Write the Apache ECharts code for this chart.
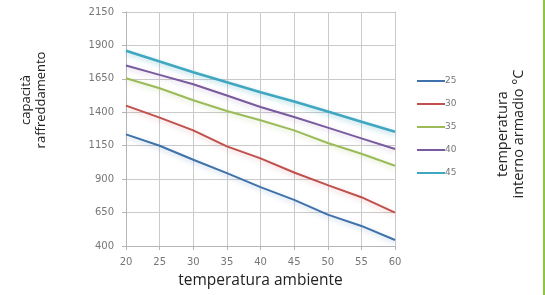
<!DOCTYPE html>
<html>
<head>
<meta charset="utf-8">
<script src="https://cdn.jsdelivr.net/npm/echarts@6/dist/echarts.min.js"></script>
<style>
  html, body { margin: 0; padding: 0; background: #fff; }
  #chart { width: 545px; height: 295px; box-sizing: border-box; border-right: 2px solid #8cc63f; }
</style>
</head>
<body>
<div id="chart"></div>
<script>
// dati
const tempAmbiente = [20, 25, 30, 35, 40, 45, 50, 55, 60];
const serieNomi = ['25', '30', '35', '40', '45'];
const cap25 = [1235, 1150, 1045, 945, 840, 745, 635, 550, 445];
const cap30 = [1450, 1360, 1265, 1145, 1055, 950, 855, 765, 650];
const cap35 = [1655, 1580, 1490, 1410, 1340, 1265, 1170, 1090, 1000];
const cap40 = [1750, 1680, 1610, 1525, 1440, 1365, 1285, 1205, 1125];
const cap45 = [1860, 1780, 1700, 1625, 1550, 1480, 1405, 1330, 1255];
const yTicks = [400, 650, 900, 1150, 1400, 1650, 1900, 2150];

const colori = ['#3f72aa', '#c0504d', '#9bbb59', '#7a5a9e', '#3fa7bf'];
const aloni = ['rgba(79,129,189,0.35)', 'rgba(192,80,77,0.3)', 'rgba(155,187,89,0.35)', 'rgba(128,100,162,0.3)', 'rgba(75,172,198,0.45)'];
const valori = [cap25, cap30, cap35, cap40, cap45];

const chart = echarts.init(document.getElementById('chart'));

const series = serieNomi.map((nome, i) => ({
    name: nome,
    type: 'line',
    symbol: 'none',
    yAxisIndex: 0,
    data: tempAmbiente.map((t, k) => [t, valori[i][k]]),
    lineStyle: {
        color: colori[i],
        width: i === 4 ? 2.6 : 2,
        shadowColor: aloni[i],
        shadowBlur: 5,
        shadowOffsetY: 2
    },
    itemStyle: { color: colori[i] }
}));

const option = {
    animation: false,
    grid: { left: 126, right: 148, top: 12, bottom: 49 },
    legend: {
        orient: 'vertical',
        left: 412,
        top: 70,
        icon: 'rect',
        itemWidth: 28,
        itemHeight: 2,
        itemGap: 11,
        textStyle: { fontSize: 9, color: '#777', fontFamily: 'DejaVu Sans', lineHeight: 12, padding: [0, 0, 0, -5] },
        data: serieNomi
    },
    xAxis: {
        type: 'value',
        min: 20,
        max: 60,
        interval: 5,
        name: 'temperatura ambiente',
        nameLocation: 'middle',
        nameGap: 27,
        nameTextStyle: { fontSize: 15.5, color: '#222', fontFamily: 'Open Sans' },
        axisLine: { lineStyle: { color: '#b5b5b5' } },
        axisTick: { show: true, length: 4, lineStyle: { color: '#b5b5b5' } },
        axisLabel: { fontSize: 10, color: '#777', margin: 11, fontFamily: 'DejaVu Sans' },
        splitLine: { show: true, lineStyle: { color: '#cacaca' } }
    },
    yAxis: [{
        type: 'value',
        min: 400,
        max: 2150,
        position: 'left',
        axisLine: { show: true, lineStyle: { color: '#b5b5b5' } },
        axisTick: { show: true, length: 4, customValues: yTicks, lineStyle: { color: '#b5b5b5' } },
        axisLabel: {
            fontSize: 10, color: '#777', margin: 12, fontFamily: 'DejaVu Sans',
            customValues: yTicks,
            formatter: v => String(v)
        },
        splitLine: { show: false }
    }, {
        // asse nascosto solo per la griglia orizzontale
        type: 'value',
        min: 0,
        max: 1750,
        interval: 250,
        position: 'right',
        axisLine: { show: true, lineStyle: { color: '#cacaca' } },
        axisTick: { show: false },
        axisLabel: { show: false },
        splitLine: { show: true, lineStyle: { color: '#cacaca' } }
    }],
    graphic: [{
        type: 'text',
        rotation: Math.PI / 2,
        style: {
            text: 'capacità\nraffreddamento',
            fontSize: 13,
            fontFamily: 'Open Sans',
            fill: '#222',
            align: 'center',
            verticalAlign: 'middle',
            lineHeight: 15
        },
        x: 34, y: 100
    }, {
        type: 'text',
        rotation: Math.PI / 2,
        style: {
            text: 'temperatura\ninterno armadio °C',
            fontSize: 14.5,
            fontFamily: 'Open Sans',
            fill: '#222',
            align: 'center',
            verticalAlign: 'middle',
            lineHeight: 16
        },
        x: 511, y: 134
    }],
    series: series
};

chart.setOption(option);
</script>
</body>
</html>
